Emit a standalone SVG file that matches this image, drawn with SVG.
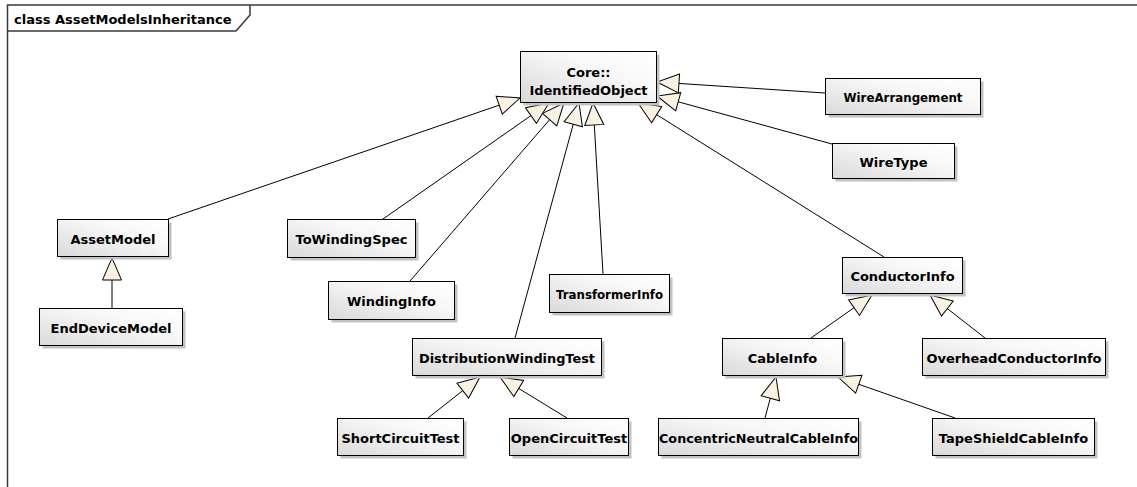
<svg xmlns="http://www.w3.org/2000/svg" width="1137" height="487" viewBox="0 0 1137 487">
  <style>
    .frame { fill: none; stroke: #3a3a3a; stroke-width: 1.5; }
    .shadow { fill: #c2c2c2; stroke: none; }
    .box { fill: url(#boxFill); stroke: #000; stroke-width: 1; }
    .label { font-family: "DejaVu Sans", "Liberation Sans", sans-serif; font-weight: bold; font-size: 13px; fill: #000; text-anchor: middle; }
    .title { font-family: "DejaVu Sans", "Liberation Sans", sans-serif; font-weight: bold; font-size: 13px; fill: #000; }
    .gen { fill: none; stroke: #000; stroke-width: 1; marker-end: url(#genArrow); }
  </style>
  <defs>
    <linearGradient id="boxFill" x1="0" y1="1" x2="1" y2="0">
      <stop offset="0" stop-color="#d9d9d9"/>
      <stop offset="0.6" stop-color="#f7f7f7"/>
      <stop offset="1" stop-color="#ffffff"/>
    </linearGradient>
    <!-- hollow generalization triangle, tip at the parent's border -->
    <marker id="genArrow" markerUnits="userSpaceOnUse" markerWidth="24" markerHeight="22" refX="22" refY="9.5" orient="auto" overflow="visible">
      <path d="M0,0 L22,9.5 L0,19 Z" fill="#fbf1e2" stroke="#000" stroke-width="1"/>
    </marker>
  </defs>

  <rect width="1137" height="487" fill="#fff"/>

  <!-- diagram frame with title tab -->
  <g id="frame">
    <path class="frame" d="M7.5,492 V5 H1140"/>
    <path class="frame" d="M7.5,31 H236 L250,15 V5"/>
    <text class="title" x="14" y="23.5">class AssetModelsInheritance</text>
  </g>

  <!-- generalization connectors -->
  <g id="connectors">
    <path class="gen" d="M168,219 L520,98"/>
    <path class="gen" d="M383,219 L549,103"/>
    <path class="gen" d="M410,281 L564,103"/>
    <path class="gen" d="M515,338 L579,103"/>
    <path class="gen" d="M603,274 L593,103"/>
    <path class="gen" d="M884,257 L638,103"/>
    <path class="gen" d="M832,144 L657,96"/>
    <path class="gen" d="M825,93 L657,82"/>
    <path class="gen" d="M112,308 L112,258"/>
    <path class="gen" d="M428,418 L480,377"/>
    <path class="gen" d="M567,418 L500,377"/>
    <path class="gen" d="M811,338 L872,295"/>
    <path class="gen" d="M985,338 L930,295"/>
    <path class="gen" d="M765,418 L776,377"/>
    <path class="gen" d="M955,418 L838,377"/>
  </g>

  <g id="IdentifiedObject">
    <rect class="shadow" x="523.5" y="54.5" width="136" height="51"/>
    <rect class="box" x="520.5" y="51.5" width="136" height="51"/>
    <text class="label" x="588.5" y="77">Core::</text>
    <text class="label" x="588.5" y="95">IdentifiedObject</text>
  </g>

  <g id="WireArrangement">
    <rect class="shadow" x="828.5" y="81.5" width="155" height="36"/>
    <rect class="box" x="825.5" y="78.5" width="155" height="36"/>
    <text class="label" x="903" y="102" textLength="119" lengthAdjust="spacingAndGlyphs">WireArrangement</text>
  </g>

  <g id="WireType">
    <rect class="shadow" x="835.5" y="146.5" width="122" height="35"/>
    <rect class="box" x="832.5" y="143.5" width="122" height="35"/>
    <text class="label" x="893.5" y="167">WireType</text>
  </g>

  <g id="AssetModel">
    <rect class="shadow" x="60.5" y="222.5" width="111" height="37"/>
    <rect class="box" x="57.5" y="219.5" width="111" height="37"/>
    <text class="label" x="113" y="244">AssetModel</text>
  </g>

  <g id="EndDeviceModel">
    <rect class="shadow" x="42.5" y="311.5" width="143" height="37"/>
    <rect class="box" x="39.5" y="308.5" width="143" height="37"/>
    <text class="label" x="111" y="333">EndDeviceModel</text>
  </g>

  <g id="ToWindingSpec">
    <rect class="shadow" x="290.5" y="222.5" width="128" height="38"/>
    <rect class="box" x="287.5" y="219.5" width="128" height="38"/>
    <text class="label" x="351.5" y="244" textLength="112" lengthAdjust="spacingAndGlyphs">ToWindingSpec</text>
  </g>

  <g id="WindingInfo">
    <rect class="shadow" x="331.5" y="284.5" width="126" height="38"/>
    <rect class="box" x="328.5" y="281.5" width="126" height="38"/>
    <text class="label" x="391.5" y="306">WindingInfo</text>
  </g>

  <g id="TransformerInfo">
    <rect class="shadow" x="552.5" y="277.5" width="120" height="38"/>
    <rect class="box" x="549.5" y="274.5" width="120" height="38"/>
    <text class="label" x="609.5" y="299" textLength="107" lengthAdjust="spacingAndGlyphs">TransformerInfo</text>
  </g>

  <g id="DistributionWindingTest">
    <rect class="shadow" x="415.5" y="341.5" width="189" height="37"/>
    <rect class="box" x="412.5" y="338.5" width="189" height="37"/>
    <text class="label" x="507" y="363" textLength="176" lengthAdjust="spacingAndGlyphs">DistributionWindingTest</text>
  </g>

  <g id="ShortCircuitTest">
    <rect class="shadow" x="340.5" y="421.5" width="126" height="37"/>
    <rect class="box" x="337.5" y="418.5" width="126" height="37"/>
    <text class="label" x="400.5" y="443">ShortCircuitTest</text>
  </g>

  <g id="OpenCircuitTest">
    <rect class="shadow" x="512.5" y="421.5" width="119" height="37"/>
    <rect class="box" x="509.5" y="418.5" width="119" height="37"/>
    <text class="label" x="569" y="443">OpenCircuitTest</text>
  </g>

  <g id="ConductorInfo">
    <rect class="shadow" x="845.5" y="260.5" width="120" height="36"/>
    <rect class="box" x="842.5" y="257.5" width="120" height="36"/>
    <text class="label" x="902.5" y="281">ConductorInfo</text>
  </g>

  <g id="CableInfo">
    <rect class="shadow" x="725.5" y="341.5" width="120" height="37"/>
    <rect class="box" x="722.5" y="338.5" width="120" height="37"/>
    <text class="label" x="782.5" y="363">CableInfo</text>
  </g>

  <g id="OverheadConductorInfo">
    <rect class="shadow" x="925.5" y="341.5" width="183" height="37"/>
    <rect class="box" x="922.5" y="338.5" width="183" height="37"/>
    <text class="label" x="1014" y="363">OverheadConductorInfo</text>
  </g>

  <g id="ConcentricNeutralCableInfo">
    <rect class="shadow" x="661.5" y="421.5" width="200" height="37"/>
    <rect class="box" x="658.5" y="418.5" width="200" height="37"/>
    <text class="label" x="758.5" y="443" textLength="199" lengthAdjust="spacingAndGlyphs">ConcentricNeutralCableInfo</text>
  </g>

  <g id="TapeShieldCableInfo">
    <rect class="shadow" x="935.5" y="421.5" width="162" height="37"/>
    <rect class="box" x="932.5" y="418.5" width="162" height="37"/>
    <text class="label" x="1013.5" y="443">TapeShieldCableInfo</text>
  </g>
</svg>
